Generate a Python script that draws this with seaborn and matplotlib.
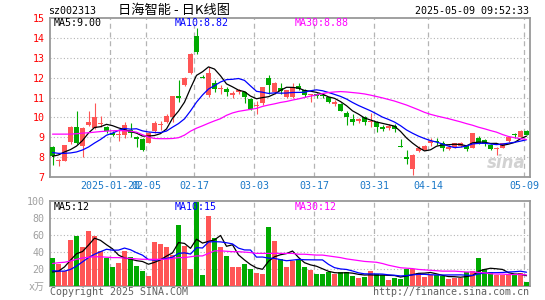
import numpy as np
import pandas as pd
import matplotlib
matplotlib.use("Agg")
import matplotlib.pyplot as plt
import seaborn as sns

# daily K data of sz002313 (80 trading days)
opens = [8.50, 7.78, 7.80, 8.73, 9.53, 8.55, 9.60, 9.45, 9.65, 9.53,
         9.20, 9.13, 9.12, 9.37, 8.98, 8.90, 8.70, 9.30, 9.63, 9.75,
         10.03, 11.07, 11.62, 12.25, 14.12, 12.02, 11.12, 11.75, 11.43, 11.42,
         11.12, 11.28, 11.28, 10.92, 10.55, 10.73, 11.98, 11.28, 11.50, 11.03,
         11.03, 11.57, 11.37, 11.12, 11.17, 11.15, 11.00, 10.67, 10.67, 10.23,
         9.92, 9.80, 10.00, 9.75, 9.75, 9.53, 9.45, 9.57, 8.52, 8.00,
         7.40, 8.28, 8.37, 8.70, 8.80, 8.70, 8.42, 8.50, 8.55, 8.57,
         8.45, 8.95, 8.87, 8.62, 8.40, 8.45, 8.78, 9.13, 9.03, 9.33]
highs = [8.55, 7.87, 8.62, 9.55, 10.33, 9.50, 10.33, 10.73, 10.05, 9.55,
         9.30, 9.40, 9.77, 9.70, 9.05, 8.95, 9.25, 9.80, 9.80, 10.15,
         11.07, 11.87, 12.05, 13.25, 14.53, 12.12, 12.53, 11.87, 11.62, 11.55,
         11.35, 11.42, 11.35, 10.95, 10.80, 11.55, 12.15, 11.80, 11.73, 11.40,
         11.72, 11.73, 11.45, 11.20, 11.25, 11.20, 11.05, 10.87, 10.70, 10.30,
         10.15, 9.98, 10.05, 10.23, 9.80, 9.62, 9.67, 9.67, 8.90, 8.33,
         8.15, 8.55, 8.60, 8.95, 8.95, 8.78, 8.60, 8.72, 8.75, 8.60,
         9.20, 9.07, 8.92, 8.65, 8.50, 8.72, 9.02, 9.23, 9.35, 9.35]
lows = [7.60, 7.55, 7.78, 8.65, 8.65, 8.00, 9.55, 9.42, 9.50, 9.20,
        9.05, 8.80, 8.95, 9.00, 8.50, 8.30, 8.68, 9.20, 9.37, 9.70,
        9.78, 10.78, 11.60, 12.20, 13.20, 11.97, 11.05, 11.30, 11.20, 11.10,
        10.95, 11.20, 10.73, 10.35, 10.17, 10.60, 11.20, 11.20, 11.17, 11.00,
        11.00, 11.37, 11.05, 10.78, 11.00, 10.95, 10.70, 10.57, 10.30, 9.62,
        9.62, 9.73, 9.62, 9.53, 9.28, 9.33, 9.37, 9.28, 8.50, 7.62,
        7.07, 8.25, 8.33, 8.57, 8.62, 8.28, 8.33, 8.45, 8.50, 8.28,
        8.43, 8.65, 8.53, 8.33, 8.12, 8.43, 8.75, 8.95, 9.00, 9.10]
closes = [8.05, 7.85, 8.60, 9.53, 8.70, 9.45, 9.75, 10.00, 9.72, 9.30,
          9.12, 9.18, 9.60, 9.20, 8.90, 8.37, 9.20, 9.73, 9.68, 10.08,
          11.07, 11.00, 12.00, 13.20, 13.32, 11.98, 12.23, 11.45, 11.50, 11.28,
          11.23, 11.40, 11.05, 10.40, 10.60, 11.53, 11.62, 11.73, 11.33, 11.37,
          11.50, 11.45, 11.12, 11.15, 11.07, 11.07, 10.75, 10.75, 10.33, 10.03,
          9.77, 9.92, 9.78, 9.82, 9.53, 9.42, 9.57, 9.43, 8.50, 7.87,
          8.12, 8.45, 8.57, 8.78, 8.77, 8.45, 8.50, 8.70, 8.72, 8.42,
          9.20, 8.70, 8.67, 8.40, 8.45, 8.70, 9.00, 9.10, 9.33, 9.12]
# volume in 万 (x万)
volumes = [33, 26, 17, 54, 58, 46, 64, 58, 41, 32,
           22, 27, 41, 34, 23, 17, 11, 52, 49, 45,
           36, 72, 47, 20, 99, 13, 82, 56, 46, 35,
           22, 22, 26, 19, 15, 14, 69, 53, 31, 22,
           29, 31, 22, 18, 14, 14, 16, 14, 16, 16,
           11, 9, 10, 17, 14, 12, 7, 9, 8, 20,
           20, 15, 10, 12, 12, 11, 8, 9, 9, 16,
           17, 33, 20, 16, 13, 13, 14, 12, 15, 4]

# averages before a full window is on screen
ma5_head = [8.03, 8.10, 8.25, 8.37]
ma10_head = [8.22, 8.18, 8.18, 8.20, 8.25, 8.35, 8.50, 8.70, 8.88]
ma30 = [9.15, 9.15, 9.15, 9.15, 9.17, 9.20, 9.22, 9.25, 9.28, 9.30,
        9.32, 9.33, 9.32, 9.30, 9.25, 9.12, 9.00, 8.93, 8.92, 8.92,
        8.93, 8.97, 9.10, 9.30, 9.45, 9.57, 9.70, 9.82, 9.93, 10.10,
        10.22, 10.30, 10.35, 10.40, 10.45, 10.55, 10.62, 10.68, 10.75, 10.80,
        10.87, 10.93, 11.00, 11.07, 11.13, 11.20, 11.25, 11.28, 11.30, 11.28,
        11.25, 11.22, 11.18, 11.12, 11.05, 10.98, 10.90, 10.82, 10.72, 10.62,
        10.50, 10.38, 10.25, 10.15, 10.07, 10.00, 9.93, 9.85, 9.77, 9.68,
        9.60, 9.50, 9.42, 9.33, 9.25, 9.13, 9.03, 8.97, 8.92, 8.88]
vol_ma5_head = [16, 17, 22, 30]
vol_ma10_head = [17.5, 17, 17, 19, 23, 28, 33, 37, 40]
vol_ma30 = [26, 27, 27.5, 29, 31, 32.5, 33.5, 34, 34, 33.5,
            33, 33, 32.5, 32, 31.5, 31, 31, 31, 31, 31,
            32, 33, 33, 34, 35, 35, 38, 41, 41, 40.5,
            40, 40, 39.5, 39, 38, 38, 38, 38, 38, 38,
            38, 37, 37, 36.5, 36, 36, 35, 34, 33, 31.5,
            30.5, 29.5, 28.5, 28, 27.5, 26, 24, 22.5, 21, 20.5,
            20, 19, 18.5, 18, 17.5, 17, 17, 17, 16.5, 16,
            16, 15.5, 15, 14, 13.5, 13.5, 13, 13, 13, 12.5]

tick_idx = [10, 16, 24, 34, 44, 54, 63, 79]
tick_labels = ["2025-01-20", "02-05", "02-17", "03-03", "03-17", "03-31", "04-14", "05-09"]

UP, DOWN = "#ff5555", "#00aa00"
GRID, FRAME = "#b4b4b4", "#999999"
MONO = ["DejaVu Sans Mono", "Noto Sans CJK SC"]


def moving(values, n, head):
    s = pd.Series(values, dtype=float).rolling(n).mean().to_numpy()
    s[:len(head)] = head
    return s


df = pd.DataFrame({"idx": np.arange(len(closes)), "open": opens, "high": highs,
                   "low": lows, "close": closes, "volume": volumes})
df["dir"] = np.where(df.close >= df.open, "up", "down")
df["ma5"] = moving(closes, 5, ma5_head)
df["ma10"] = moving(closes, 10, ma10_head)
df["ma30"] = ma30
df["vma5"] = moving(volumes, 5, vol_ma5_head)
df["vma10"] = moving(volumes, 10, vol_ma10_head)
df["vma30"] = vol_ma30

sns.set_style("white")
plt.rcParams["font.family"] = MONO

W, H = 545, 300
fig = plt.figure(figsize=(W / 100, H / 100), dpi=100)


def box(x0, y0, x1, y1):
    return [x0 / W, 1 - y1 / H, (x1 - x0) / W, (y1 - y0) / H]


axp = fig.add_axes(box(50, 18.3, 529.5, 176.7))
axv = fig.add_axes(box(50, 201, 529.5, 285.5))

xlim = (-0.42, 79.5)
gx = [i - 0.42 for i in tick_idx]

# --- price panel ---
cols = df["dir"].map({"up": UP, "down": DOWN})
axp.vlines(df.idx, df.low, df.high, colors=cols, lw=0.8, zorder=3)
body = np.maximum((df.close - df.open).abs(), 0.05)
axp.bar(df.idx, body, bottom=np.minimum(df.open, df.close), width=0.8,
        color=cols, linewidth=0, zorder=4)
sns.lineplot(data=df, x="idx", y="ma5", color="black", lw=0.9, ax=axp, zorder=5)
sns.lineplot(data=df, x="idx", y="ma10", color="#0000ff", lw=0.9, ax=axp, zorder=5)
sns.lineplot(data=df, x="idx", y="ma30", color="#ff00ff", lw=0.9, ax=axp, zorder=5)
axp.set_xlim(*xlim)
axp.set_ylim(7, 15)
axp.set_yticks(range(7, 16))
axp.tick_params(axis="y", colors="#ff0000", labelsize=7.2, length=0, pad=4)
axp.set_xticks(gx)
axp.set_xticklabels(tick_labels)
axp.tick_params(axis="x", colors="#1a78c8", labelsize=7.2, length=0, pad=3)
for lab in axp.get_xticklabels():
    lab.set_color("#1a78c8")
for lab in axp.get_yticklabels():
    lab.set_color("#ff0000")
for y in range(8, 15):
    axp.axhline(y, color=GRID, lw=0.8, ls=(0, (1, 2)), zorder=1)
for x in gx:
    axp.axvline(x, color=GRID, lw=0.9, ls=(0, (4, 3)), zorder=1)
axp.set_xlabel("")
axp.set_ylabel("")

# --- volume panel ---
sns.barplot(data=df, x="idx", y="volume", hue="dir", palette={"up": UP, "down": DOWN},
            native_scale=True, width=0.8, dodge=False, errorbar=None, legend=False,
            saturation=1, linewidth=0, ax=axv, zorder=3)
sns.lineplot(data=df, x="idx", y="vma5", color="black", lw=0.9, ax=axv, zorder=5)
sns.lineplot(data=df, x="idx", y="vma10", color="#0000ff", lw=0.9, ax=axv, zorder=5)
sns.lineplot(data=df, x="idx", y="vma30", color="#ff00ff", lw=0.9, ax=axv, zorder=5)
axv.set_xlim(*xlim)
axv.set_ylim(0, 100)
axv.set_yticks([0, 20, 40, 60, 80, 100])
axv.set_yticklabels(["x万", "20", "40", "60", "80", "100"])
axv.tick_params(axis="y", colors="#a0a0a0", labelsize=7.2, length=0, pad=4)
axv.set_xticks([])
for y in (20, 40, 60, 80):
    axv.axhline(y, color=GRID, lw=0.8, ls=(0, (1, 2)), zorder=1)
for x in gx:
    axv.axvline(x, color=GRID, lw=0.9, ls=(0, (4, 3)), zorder=1)
axv.set_xlabel("")
axv.set_ylabel("")

for ax in (axp, axv):
    for sp in ax.spines.values():
        sp.set_color(FRAME)
        sp.set_linewidth(1.3)

# --- texts ---
def txt(px, py, s, **kw):
    fig.text(px / W, 1 - py / H, s, va="center", **kw)


txt(48, 11, "sz002313", fontsize=7.2, color="black")
txt(118, 10, "日海智能 - 日K线图", fontsize=9.5, color="black",
    family=["Noto Sans CJK SC", "DejaVu Sans"])
txt(529, 11, "2025-05-09 09:52:33", fontsize=7.2, color="black", ha="right")

txt(54, 23.5, "MA5:9.00", fontsize=7.2, color="black")
txt(175, 23.5, "MA10:8.82", fontsize=7.2, color="#0000ff")
txt(295, 23.5, "MA30:8.88", fontsize=7.2, color="#ff00ff")
txt(54, 206.5, "MA5:12", fontsize=7.2, color="black")
txt(175, 206.5, "MA10:15", fontsize=7.2, color="#0000ff")
txt(295, 206.5, "MA30:12", fontsize=7.2, color="#ff00ff")

txt(50, 292, "Copyright 2025 SINA.COM", fontsize=7.2, color="#606060")
txt(529, 292, "http://finance.sina.com.cn", fontsize=7.2, color="#606060", ha="right")
txt(526, 163, "sina", fontsize=12, color="#d2d2d2", ha="right",
    family="DejaVu Sans", weight="bold", style="italic", zorder=2)

fig.savefig("out.png", dpi=100)
